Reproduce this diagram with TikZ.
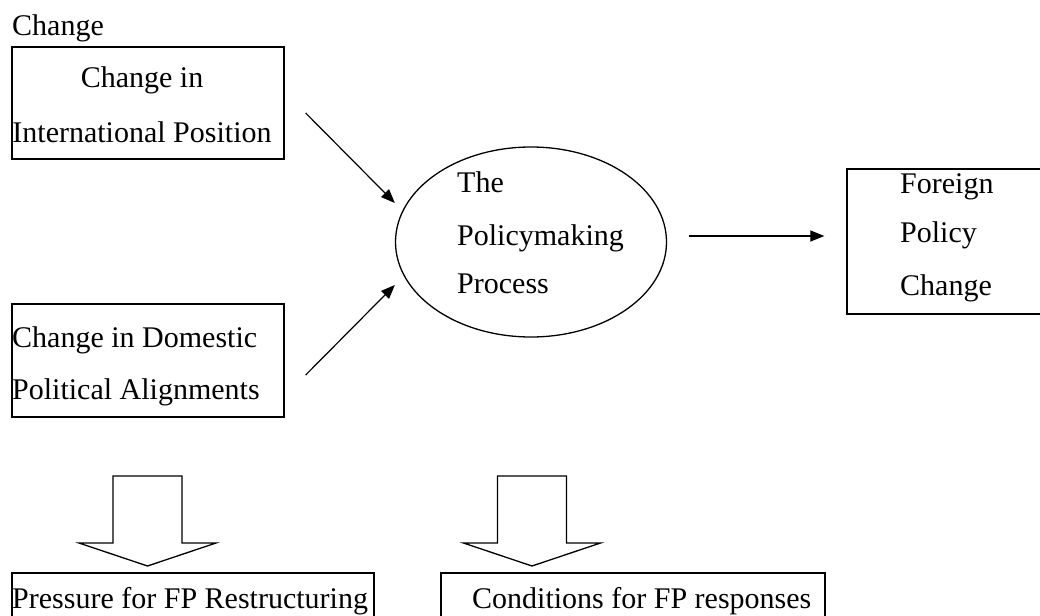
\documentclass[tikz,border=0pt]{standalone}
\usepackage{fontspec}
\setmainfont{Liberation Serif}
\usetikzlibrary{arrows.meta,shapes.geometric,positioning}

\begin{document}
\begin{tikzpicture}[x=1pt,y=-1pt]
	\tikzstyle{box}=[draw, rectangle, line width=1.3pt, inner sep=0pt]
	\tikzstyle{t}=[inner sep=0pt, font=\fontsize{30}{36}\selectfont]
	\tikzstyle{a}=[-{Triangle[length=14pt,width=11pt]}, line width=1.2pt]
	\tikzstyle{hollow}=[draw, line width=1.3pt, fill=white, line join=miter]

	\useasboundingbox (0,0) rectangle (1040,615);

	% boxes
	\node[box, minimum width=272pt, minimum height=112pt] (intl) at (148,103) {};
	\node[box, minimum width=272pt, minimum height=113pt] (dom) at (148,360.5) {};
	\node[draw, ellipse, line width=1.3pt, minimum width=271pt, minimum height=190pt] (pm) at (531,242) {};
	\node[box, minimum width=223pt, minimum height=145pt] (fp) at (958.5,241.5) {};
	\node[box, minimum width=362pt, minimum height=77pt] (press) at (193,611.5) {};
	\node[box, minimum width=384pt, minimum height=77pt] (cond) at (633,611.5) {};

	% texts
	\node[t, anchor=base west] (title) at (12,36) {Change};
	\node[t, anchor=base] (intl1) at (142,88) {Change in};
	\node[t, anchor=base] (intl2) at (142,142) {International Position};
	\node[t, anchor=base west] (dom1) at (12,347) {Change in Domestic};
	\node[t, anchor=base west] (dom2) at (12,399) {Political Alignments};
	\node[t, anchor=base west] (pm1) at (457,192) {The};
	\node[t, anchor=base west] (pm2) at (457,245) {Policymaking};
	\node[t, anchor=base west] (pm3) at (457,293) {Process};
	\node[t, anchor=base west] (fp1) at (900,193) {Foreign};
	\node[t, anchor=base west] (fp2) at (900,242) {Policy};
	\node[t, anchor=base west] (fp3) at (900,295) {Change};
	\node[t, anchor=base west] (press1) at (12,608) {Pressure for FP Restructuring};
	\node[t, anchor=base west] (cond1) at (472,608) {Conditions for FP responses};

	% arrows
	\draw[a] ([shift={(21,10)}]intl.east) -- ([yshift=39pt]pm.west);
	\draw[a] ([shift={(21,14.5)}]dom.east) -- ([yshift=-43pt]pm.west);
	\draw[a] ([shift={(22,-6)}]pm.east) -- ([shift={(-22,-5.5)}]fp.west);

	\foreach \cx in {147.5,532}
		\draw[hollow] ({\cx-34.5},476) -- ({\cx+34.5},476) -- ({\cx+34.5},543) -- ({\cx+68.5},543)
			-- (\cx,566) -- ({\cx-68.5},543) -- ({\cx-34.5},543) -- cycle;
\end{tikzpicture}
\end{document}
